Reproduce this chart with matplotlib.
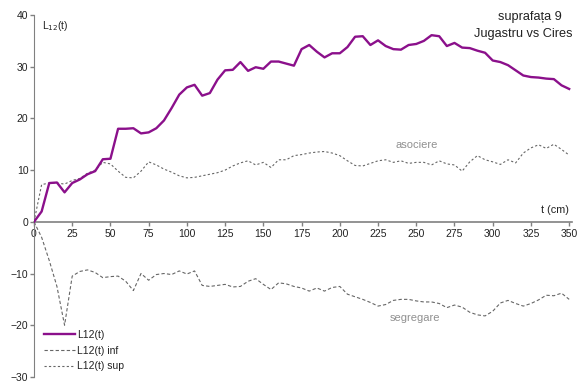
import numpy as np
import matplotlib.pyplot as plt

plt.rcParams['font.family'] = ['Liberation Sans', 'DejaVu Sans']

# distance t (cm), 5 cm steps
t = np.arange(0, 355, 5)

# observed L12(t)
l12 = [0, 2, 7.5, 7.6, 5.7, 7.5, 8.2, 9.2, 9.8, 12.1,
       12.2, 18, 18, 18.1, 17.1, 17.3, 18.1, 19.6, 22, 24.6,
       26, 26.5, 24.4, 24.9, 27.5, 29.3, 29.4, 30.9, 29.2, 29.9,
       29.6, 31, 31, 30.6, 30.2, 33.4, 34.2, 32.9, 31.8, 32.6,
       32.6, 33.8, 35.8, 35.9, 34.2, 35.1, 34, 33.4, 33.3, 34.2,
       34.4, 35, 36.1, 35.9, 34, 34.6, 33.7, 33.6, 33.1, 32.7,
       31.2, 30.9, 30.3, 29.3, 28.3, 28, 27.9, 27.7, 27.6, 26.4,
       25.7]

# lower envelope
l12_inf = [0, -3, -7.5, -12.5, -20, -10.5, -9.6, -9.3, -9.8, -10.8,
           -10.6, -10.5, -11.5, -13.3, -10, -11.3, -10.2, -10, -10.2, -9.5,
           -10.1, -9.5, -12.3, -12.5, -12.3, -12.1, -12.6, -12.5, -11.5, -11,
           -12.1, -13.1, -11.8, -12, -12.5, -12.8, -13.4, -12.8, -13.4, -12.7,
           -12.5, -14, -14.5, -15, -15.6, -16.3, -16, -15.2, -15, -15,
           -15.3, -15.5, -15.5, -15.8, -16.6, -16.1, -16.5, -17.5, -18, -18.2,
           -17.3, -15.7, -15.2, -15.8, -16.3, -15.8, -15.1, -14.2, -14.3, -13.8,
           -15]

# upper envelope
l12_sup = [0, 7.2, 7.5, 7.5, 7.3, 8, 8.4, 9.4, 10, 11.5,
           11.2, 9.8, 8.6, 8.5, 9.8, 11.6, 11, 10.2, 9.6, 8.9,
           8.5, 8.6, 8.9, 9.2, 9.5, 10, 10.8, 11.4, 11.8, 11,
           11.5, 10.5, 12, 12, 12.8, 13, 13.3, 13.5, 13.6, 13.3,
           12.8, 11.8, 10.9, 10.8, 11.3, 11.8, 12, 11.5, 11.8, 11.3,
           11.5, 11.5, 11, 11.8, 11.2, 11, 9.8, 11.6, 12.8, 12,
           11.6, 11.1, 12, 11.4, 13.3, 14.3, 14.9, 14.2, 15, 14,
           12.9]

fig = plt.figure(figsize=(5.8, 3.85), dpi=100)
ax = fig.add_axes([0.0586, 0.021, 0.928, 0.94])

ax.plot(t, l12, color='#8b108b', lw=1.7, label='L12(t)', zorder=3)
ax.plot(t, l12_inf, color='#666666', lw=0.8, dashes=(3, 2), label='L12(t) inf')
ax.plot(t, l12_sup, color='#666666', lw=0.8, dashes=(2, 2), label='L12(t) sup')

ax.set_xlim(0, 352)
ax.set_ylim(-30, 40)
ax.set_xticks(np.arange(0, 351, 25))
ax.set_yticks(np.arange(-30, 41, 10))

for s in ['top', 'right']:
    ax.spines[s].set_visible(False)
ax.spines['bottom'].set_position(('data', 0))
ax.spines['left'].set_position(('data', 0))
ax.spines['bottom'].set_color('#808080')
ax.spines['left'].set_color('#808080')
ax.spines['bottom'].set_linewidth(1.2)
ax.tick_params(axis='both', colors='#808080', labelcolor='#222222',
               labelsize=7.5, length=3, width=1)
ax.tick_params(axis='x', pad=2)
ax.tick_params(axis='y', pad=1)

ax.text(5, 37.8, 'L$_{12}$(t)', fontsize=7.5, color='#222222', va='center')
ax.text(345, 39.6, 'suprafața 9', ha='right', va='center',
        fontsize=9.2, color='#222222')
ax.text(352, 36.4, 'Jugastru vs Cires', ha='right', va='center',
        fontsize=9.2, color='#222222')
ax.text(350, 2.3, 't (cm)', ha='right', va='center', fontsize=7.8, color='#222222')
ax.text(250, 14.8, 'asociere', ha='center', va='center', fontsize=8, color='#909090')
ax.text(249, -18.6, 'segregare', ha='center', va='center', fontsize=8, color='#909090')

ax.legend(loc='lower left', bbox_to_anchor=(0.005, -0.005), frameon=False,
          fontsize=7.5, handlelength=3.0, handletextpad=0.15, labelspacing=0.55,
          borderaxespad=0.3, labelcolor='#222222')

fig.savefig('out.png', dpi=100)
